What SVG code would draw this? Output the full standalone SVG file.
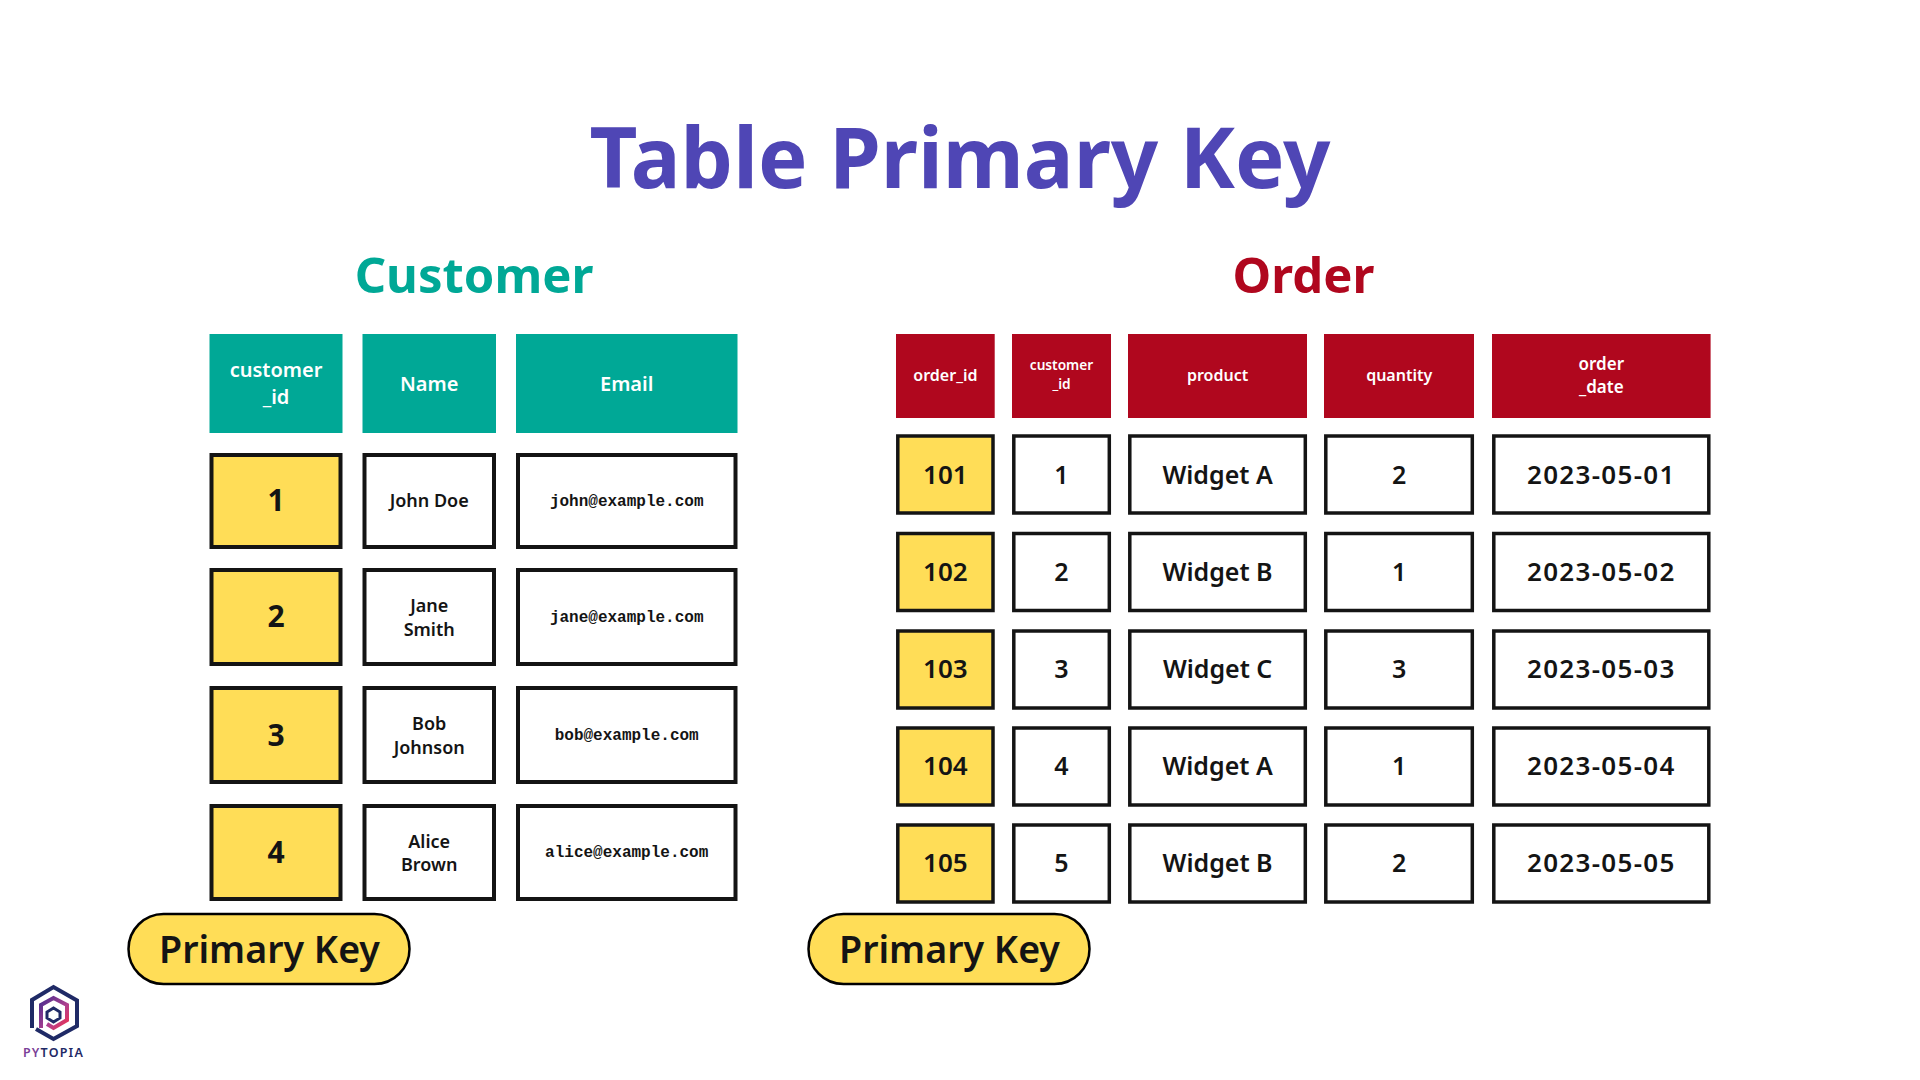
<svg xmlns="http://www.w3.org/2000/svg" width="1920" height="1080" viewBox="0 0 1920 1080">
<style>
text{font-family:"Noto Sans","Liberation Sans",sans-serif;text-anchor:middle;fill:#141414;font-weight:600}
.title{font-size:84px;font-weight:700;fill:#4f46b5}
.h2{font-size:49px;font-weight:700}
.hc{font-size:20px;fill:#fff}
.ho{font-size:16px;fill:#fff}
.hd{font-size:17px;fill:#fff}
.hs{font-size:13.700px;fill:#fff}
.teal{fill:#00a896}.red{fill:#b0071e}
.c{fill:#fff;stroke:#141414;stroke-width:4}
.o{fill:#fff;stroke:#141414;stroke-width:3.500}
.y{fill:#ffdd57}
.num{font-size:30px;font-weight:700}
.nm{font-size:18px}
.em{font-family:"Liberation Mono",monospace;font-size:16px;font-weight:700}
.ov{font-size:25px}
.nv{font-size:26px}
.dt{font-size:26px;letter-spacing:1.300px}
.pill{fill:#ffdd57;stroke:#000;stroke-width:2.500}
.pt{font-size:37.600px}
.lg{fill:none;stroke-linejoin:miter}
</style>
<defs><linearGradient id="lgr" x1="0" y1="0" x2="1" y2="1"><stop offset="0" stop-color="#4a2d8f"/><stop offset=".6" stop-color="#b0408f"/><stop offset="1" stop-color="#f0304f"/></linearGradient></defs>
<rect width="1920" height="1080" fill="#fff"/>
<text class="title" x="960" y="188" textLength="741" lengthAdjust="spacingAndGlyphs">Table Primary Key</text>
<text class="h2" x="474" y="293" style="fill:#00a896">Customer</text>
<text class="h2" x="1303.500" y="293" style="fill:#b0071e">Order</text>
<g id="connectors"/>
<g id="customer-table">
<g id="c-h1"><rect class="teal" x="209.500" y="334" width="133" height="99"/><text class="hc" x="276" y="377">customer</text><text class="hc" x="276" y="404">_id</text></g>
<g id="c-h2"><rect class="teal" x="362.500" y="334" width="133.500" height="99"/><text class="hc" x="429.200" y="391">Name</text></g>
<g id="c-h3"><rect class="teal" x="516" y="334" width="221.500" height="99"/><text class="hc" x="626.700" y="391">Email</text></g>
<g id="c-r1a"><rect class="c y" x="211.500" y="455" width="129" height="92"/><text class="num" x="276" y="511">1</text></g>
<g id="c-r1b"><rect class="c" x="364.500" y="455" width="129.500" height="92"/><text class="nm" x="429.200" y="507">John Doe</text></g>
<g id="c-r1c"><rect class="c" x="518" y="455" width="217.500" height="92"/><text class="em" x="626.700" y="506">john@example.com</text></g>
<g id="c-r2a"><rect class="c y" x="211.500" y="570" width="129" height="94"/><text class="num" x="276" y="627">2</text></g>
<g id="c-r2b"><rect class="c" x="364.500" y="570" width="129.500" height="94"/><text class="nm" x="429.200" y="612">Jane</text><text class="nm" x="429.200" y="636">Smith</text></g>
<g id="c-r2c"><rect class="c" x="518" y="570" width="217.500" height="94"/><text class="em" x="626.700" y="622">jane@example.com</text></g>
<g id="c-r3a"><rect class="c y" x="211.500" y="688" width="129" height="94"/><text class="num" x="276" y="746">3</text></g>
<g id="c-r3b"><rect class="c" x="364.500" y="688" width="129.500" height="94"/><text class="nm" x="429.200" y="730">Bob</text><text class="nm" x="429.200" y="754">Johnson</text></g>
<g id="c-r3c"><rect class="c" x="518" y="688" width="217.500" height="94"/><text class="em" x="626.700" y="740">bob@example.com</text></g>
<g id="c-r4a"><rect class="c y" x="211.500" y="806" width="129" height="93"/><text class="num" x="276" y="863">4</text></g>
<g id="c-r4b"><rect class="c" x="364.500" y="806" width="129.500" height="93"/><text class="nm" x="429.200" y="848">Alice</text><text class="nm" x="429.200" y="871">Brown</text></g>
<g id="c-r4c"><rect class="c" x="518" y="806" width="217.500" height="93"/><text class="em" x="626.700" y="857">alice@example.com</text></g>
</g>
<g id="order-table">
<g id="o-h1"><rect class="red" x="896" y="334" width="98.700" height="84"/><text class="ho" x="945.400" y="381">order_id</text></g>
<g id="o-h2"><rect class="red" x="1012" y="334" width="99" height="84"/><text class="hs" x="1061.500" y="370">customer</text><text class="hs" x="1061.500" y="389">_id</text></g>
<g id="o-h3"><rect class="red" x="1128" y="334" width="179" height="84"/><text class="ho" x="1217.600" y="381">product</text></g>
<g id="o-h4"><rect class="red" x="1324" y="334" width="150" height="84"/><text class="ho" x="1399.200" y="381">quantity</text></g>
<g id="o-h5"><rect class="red" x="1492" y="334" width="218.600" height="84"/><text class="hd" x="1601.300" y="370">order</text><text class="hd" x="1601.300" y="393">_date</text></g>
<g id="o-r1a"><rect class="o y" x="897.800" y="436" width="95.200" height="77"/><text class="nv" x="945.400" y="484">101</text></g>
<g id="o-r1b"><rect class="o" x="1013.800" y="436" width="95.500" height="77"/><text class="ov" x="1061.500" y="484">1</text></g>
<g id="o-r1c"><rect class="o" x="1129.800" y="436" width="175.500" height="77"/><text class="ov" x="1217.600" y="484">Widget A</text></g>
<g id="o-r1d"><rect class="o" x="1325.800" y="436" width="146.500" height="77"/><text class="ov" x="1399.200" y="484">2</text></g>
<g id="o-r1e"><rect class="o" x="1493.800" y="436" width="215" height="77"/><text class="dt" x="1601.300" y="484">2023-05-01</text></g>
<g id="o-r2a"><rect class="o y" x="897.800" y="533.500" width="95.200" height="77"/><text class="nv" x="945.400" y="581">102</text></g>
<g id="o-r2b"><rect class="o" x="1013.800" y="533.500" width="95.500" height="77"/><text class="ov" x="1061.500" y="581">2</text></g>
<g id="o-r2c"><rect class="o" x="1129.800" y="533.500" width="175.500" height="77"/><text class="ov" x="1217.600" y="581">Widget B</text></g>
<g id="o-r2d"><rect class="o" x="1325.800" y="533.500" width="146.500" height="77"/><text class="ov" x="1399.200" y="581">1</text></g>
<g id="o-r2e"><rect class="o" x="1493.800" y="533.500" width="215" height="77"/><text class="dt" x="1601.300" y="581">2023-05-02</text></g>
<g id="o-r3a"><rect class="o y" x="897.800" y="631" width="95.200" height="77"/><text class="nv" x="945.400" y="678">103</text></g>
<g id="o-r3b"><rect class="o" x="1013.800" y="631" width="95.500" height="77"/><text class="ov" x="1061.500" y="678">3</text></g>
<g id="o-r3c"><rect class="o" x="1129.800" y="631" width="175.500" height="77"/><text class="ov" x="1217.600" y="678">Widget C</text></g>
<g id="o-r3d"><rect class="o" x="1325.800" y="631" width="146.500" height="77"/><text class="ov" x="1399.200" y="678">3</text></g>
<g id="o-r3e"><rect class="o" x="1493.800" y="631" width="215" height="77"/><text class="dt" x="1601.300" y="678">2023-05-03</text></g>
<g id="o-r4a"><rect class="o y" x="897.800" y="728" width="95.200" height="77"/><text class="nv" x="945.400" y="775">104</text></g>
<g id="o-r4b"><rect class="o" x="1013.800" y="728" width="95.500" height="77"/><text class="ov" x="1061.500" y="775">4</text></g>
<g id="o-r4c"><rect class="o" x="1129.800" y="728" width="175.500" height="77"/><text class="ov" x="1217.600" y="775">Widget A</text></g>
<g id="o-r4d"><rect class="o" x="1325.800" y="728" width="146.500" height="77"/><text class="ov" x="1399.200" y="775">1</text></g>
<g id="o-r4e"><rect class="o" x="1493.800" y="728" width="215" height="77"/><text class="dt" x="1601.300" y="775">2023-05-04</text></g>
<g id="o-r5a"><rect class="o y" x="897.800" y="825" width="95.200" height="77"/><text class="nv" x="945.400" y="872">105</text></g>
<g id="o-r5b"><rect class="o" x="1013.800" y="825" width="95.500" height="77"/><text class="ov" x="1061.500" y="872">5</text></g>
<g id="o-r5c"><rect class="o" x="1129.800" y="825" width="175.500" height="77"/><text class="ov" x="1217.600" y="872">Widget B</text></g>
<g id="o-r5d"><rect class="o" x="1325.800" y="825" width="146.500" height="77"/><text class="ov" x="1399.200" y="872">2</text></g>
<g id="o-r5e"><rect class="o" x="1493.800" y="825" width="215" height="77"/><text class="dt" x="1601.300" y="872">2023-05-05</text></g>
</g>
<g id="pk-customer"><rect class="pill" x="128.500" y="914" width="281" height="70" rx="35"/><text class="pt" x="269.500" y="963">Primary Key</text></g>
<g id="pk-order"><rect class="pill" x="808.500" y="914" width="281" height="70" rx="35"/><text class="pt" x="949.500" y="963">Primary Key</text></g>
<g id="logo">
<path class="lg" stroke="#1f2a66" stroke-width="4" d="M32 1028V1000L53.500 987L77 1000.500V1026L53.500 1039L36 1029"/>
<path class="lg" stroke="url(#lgr)" stroke-width="4" d="M41 1028V1005L53.500 998L67 1005V1020L53.500 1028L47 1024"/>
<path class="lg" stroke="#1f2a66" stroke-width="3" d="M53.500 1008L60 1012V1018L53.500 1022L47 1018V1012Z"/>
<text x="53.500" y="1057" style="font-size:12.500px;font-weight:600;letter-spacing:1.200px;fill:#1f2a66"><tspan style="fill:#7b3f98">PY</tspan>TOPIA</text>
</g>
</svg>
